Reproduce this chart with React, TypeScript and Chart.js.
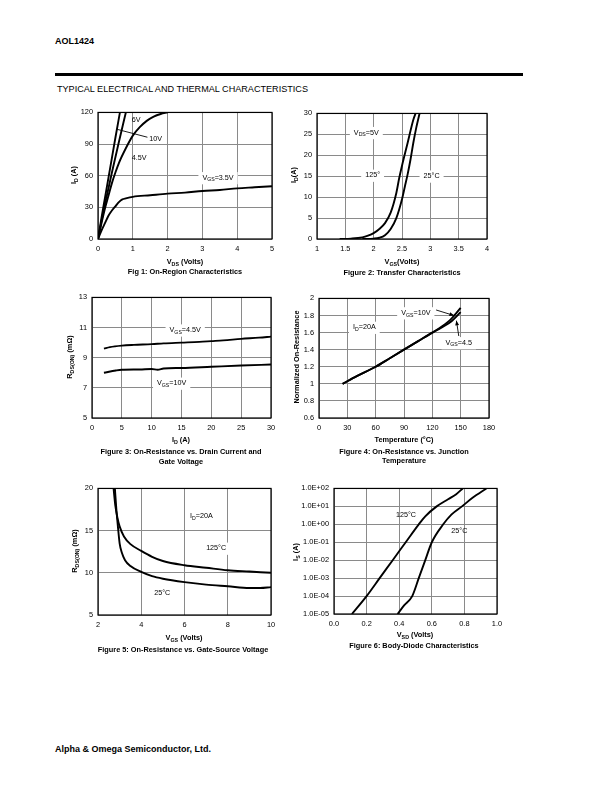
import React, { useEffect, useRef } from 'react';
import { Chart, registerables } from 'chart.js';

Chart.register(...registerables);

const FONT = '"Liberation Sans", Arial, Helvetica, sans-serif';

// ---------- Figure 1: On-Region Characteristics ----------
const fig1Vds10V = [0, 0.1, 0.2, 0.3, 0.4, 0.5, 0.63];
const fig1Id10V = [0, 20, 39, 58, 77, 96, 120];
const fig1Vds6V = [0, 0.1, 0.2, 0.4, 0.6, 0.8];
const fig1Id6V = [0, 17, 33, 63, 92, 120];
const fig1Vds45V = [0, 0.1, 0.2, 0.3, 0.4, 0.5, 0.6, 0.8, 1.0, 1.2, 1.4, 1.6, 1.8, 2.0];
const fig1Id45V = [0, 15, 29, 41, 53, 63, 72, 86, 98, 106, 112, 116, 118.5, 120];
const fig1Vds35V = [0, 0.1, 0.2, 0.3, 0.4, 0.5, 0.6, 0.7, 0.8, 1.0, 1.5, 2, 2.5, 3, 3.5, 4, 4.5, 5];
const fig1Id35V = [0, 8, 15, 22, 27, 31, 35, 37.5, 38.5, 40, 41.5, 43, 44, 45.5, 46.5, 48, 49, 50];

// ---------- Figure 2: Transfer Characteristics ----------
const fig2Vgs125 = [1.4, 1.6, 1.8, 1.9, 2.0, 2.1, 2.2, 2.3, 2.4, 2.45, 2.5, 2.6, 2.7, 2.74];
const fig2Id125 = [0, 0.1, 0.4, 0.8, 1.4, 2.4, 3.8, 6.3, 11, 14.5, 17.5, 23, 28.5, 30];
const fig2Vgs25 = [1.8, 2.0, 2.1, 2.2, 2.3, 2.4, 2.5, 2.55, 2.6, 2.65, 2.7, 2.75, 2.81];
const fig2Id25 = [0, 0.1, 0.3, 0.9, 2.4, 5, 9.5, 12.5, 15.5, 19, 23, 26.5, 30];

// ---------- Figure 3: On-Resistance vs Drain Current ----------
const fig3Id45 = [2, 3, 5, 7, 10, 12, 15, 18, 20, 22, 25, 28, 30];
const fig3R45 = [9.6, 9.7, 9.8, 9.85, 9.9, 9.95, 10.0, 10.05, 10.1, 10.15, 10.25, 10.33, 10.4];
const fig3Id10 = [2, 4, 5, 8, 10, 11, 12, 15, 20, 25, 30];
const fig3R10 = [8.0, 8.15, 8.2, 8.22, 8.25, 8.2, 8.28, 8.32, 8.4, 8.48, 8.55];

// ---------- Figure 4: On-Resistance vs Junction Temperature ----------
const fig4T = [25, 40, 60, 75, 90, 105, 120, 130, 140, 150];
const fig4N10 = [1.0, 1.09, 1.2, 1.3, 1.4, 1.5, 1.6, 1.67, 1.76, 1.89];
const fig4N45 = [1.0, 1.09, 1.2, 1.3, 1.4, 1.5, 1.6, 1.66, 1.73, 1.84];

// ---------- Figure 5: On-Resistance vs Gate-Source Voltage ----------
const fig5Vgs125 = [2.72, 2.8, 2.9, 3.0, 3.2, 3.5, 4, 4.5, 5, 6, 7, 8, 9, 10];
const fig5R125 = [20, 18, 16.5, 15.5, 14.3, 13.4, 12.6, 11.9, 11.4, 10.9, 10.6, 10.3, 10.15, 10.0];
const fig5Vgs25 = [2.78, 2.85, 2.92, 3.0, 3.1, 3.25, 3.5, 4, 4.5, 5, 6, 7, 8, 9, 9.5, 10];
const fig5R25 = [20, 17.5, 15.5, 13.5, 12.4, 11.5, 10.8, 10.1, 9.6, 9.3, 8.9, 8.6, 8.4, 8.2, 8.2, 8.3];

// ---------- Figure 6: Body-Diode Characteristics ----------
const fig6Vsd125 = [0.11, 0.2, 0.28, 0.36, 0.44, 0.52, 0.56, 0.63, 0.7, 0.75, 0.79];
const fig6Is125 = [1e-5, 1e-4, 1e-3, 1e-2, 1e-1, 1, 2.8, 10, 25, 48, 100];
const fig6Vsd25 = [0.39, 0.43, 0.48, 0.52, 0.56, 0.6, 0.67, 0.72, 0.785, 0.85, 0.935];
const fig6Is25 = [1e-5, 3e-5, 1e-4, 1e-3, 1e-2, 1e-1, 1, 3.5, 10, 30, 100];
const fig6LogTicks = [1e-5, 1e-4, 1e-3, 1e-2, 1e-1, 1, 10, 100];

// ---------- layout constants ----------
const YW = 44;
const XH = 22;
const PT = 8;
const PR = 14;
const TICK_SIZE = 7.4;
const TEXT_SIZE = 7.35;

const zip = (xs: number[], ys: number[]) => xs.map((x, i) => ({ x, y: ys[i] }));

type Part = { t: string; sub: boolean };
function parseRich(text: string): Part[] {
  const parts: Part[] = [];
  const re = /_\{([^}]*)\}/g;
  let last = 0;
  let m: RegExpExecArray | null;
  while ((m = re.exec(text))) {
    if (m.index > last) parts.push({ t: text.slice(last, m.index), sub: false });
    parts.push({ t: m[1], sub: true });
    last = m.index + m[0].length;
  }
  if (last < text.length) parts.push({ t: text.slice(last), sub: false });
  return parts;
}

type Note = { x: number; y: number; text: string; bg?: boolean };
type Arrow = { x1: number; y1: number; x2: number; y2: number; head?: boolean };

function drawRich(ctx: CanvasRenderingContext2D, text: string, x: number, y: number, size: number, bg: boolean) {
  const parts = parseRich(text);
  const nf = `${size}px ${FONT}`;
  const sf = `${size * 0.72}px ${FONT}`;
  let w = 0;
  const widths = parts.map((p) => {
    ctx.font = p.sub ? sf : nf;
    const mw = ctx.measureText(p.t).width;
    w += mw;
    return mw;
  });
  if (bg) {
    ctx.fillStyle = '#fff';
    ctx.fillRect(x - 4, y - size * 0.8, w + 8, size * 1.7);
  }
  ctx.fillStyle = '#000';
  ctx.textBaseline = 'middle';
  ctx.textAlign = 'left';
  let cx = x;
  parts.forEach((p, i) => {
    ctx.font = p.sub ? sf : nf;
    ctx.fillText(p.t, cx, p.sub ? y + size * 0.3 : y);
    cx += widths[i];
  });
}

function makeAnnotPlugin(notes: Note[], arrows: Arrow[]) {
  return {
    id: 'annot',
    beforeDatasetsDraw(chart: any) {
      const { ctx, chartArea: a, scales } = chart;
      ctx.save();
      ctx.beginPath();
      ctx.rect(a.left, a.top, a.right - a.left, a.bottom - a.top);
      ctx.clip();
      notes.forEach((n) => {
        drawRich(ctx, n.text, scales.x.getPixelForValue(n.x), scales.y.getPixelForValue(n.y), 7.2, !!n.bg);
      });
      ctx.restore();
      // frame around the plot area
      ctx.save();
      ctx.strokeStyle = '#000';
      ctx.lineWidth = 1.2;
      ctx.strokeRect(a.left, a.top, a.right - a.left, a.bottom - a.top);
      ctx.restore();
    },
    afterDatasetsDraw(chart: any) {
      const { ctx, scales } = chart;
      ctx.save();
      ctx.strokeStyle = '#000';
      ctx.fillStyle = '#000';
      ctx.lineWidth = 0.9;
      arrows.forEach((ar) => {
        const x1 = scales.x.getPixelForValue(ar.x1);
        const y1 = scales.y.getPixelForValue(ar.y1);
        const x2 = scales.x.getPixelForValue(ar.x2);
        const y2 = scales.y.getPixelForValue(ar.y2);
        ctx.beginPath();
        ctx.moveTo(x1, y1);
        ctx.lineTo(x2, y2);
        ctx.stroke();
        if (ar.head) {
          const ang = Math.atan2(y2 - y1, x2 - x1);
          const L = 5;
          ctx.beginPath();
          ctx.moveTo(x2, y2);
          ctx.lineTo(x2 - L * Math.cos(ang - 0.4), y2 - L * Math.sin(ang - 0.4));
          ctx.lineTo(x2 - L * Math.cos(ang + 0.4), y2 - L * Math.sin(ang + 0.4));
          ctx.closePath();
          ctx.fill();
        }
      });
      ctx.restore();
    },
  };
}

const num = (v: any) => String(Math.round(Number(v) * 100) / 100);
const sci = (v: any) => {
  const e = Math.round(Math.log10(Number(v)));
  return `1.0E${e >= 0 ? '+' : '-'}${String(Math.abs(e)).padStart(2, '0')}`;
};

function axis(min: number, max: number, step: number | null, cb: (v: any) => string, isX: boolean, log = false) {
  const o: any = {
    type: log ? 'logarithmic' : 'linear',
    min,
    max,
    ticks: {
      color: '#000',
      font: { family: FONT, size: TICK_SIZE },
      padding: isX ? 6 : 5,
      maxRotation: 0,
      autoSkip: false,
      callback: cb,
    },
    grid: { color: '#8a8a8a', lineWidth: 1, drawTicks: false },
    border: { display: false },
    afterFit: (s: any) => {
      if (isX) s.height = XH;
      else s.width = YW;
    },
  };
  if (step != null) o.ticks.stepSize = step;
  if (log) {
    o.afterBuildTicks = (s: any) => {
      s.ticks = fig6LogTicks.map((v) => ({ value: v }));
    };
  }
  return o;
}

function lineDs(data: { x: number; y: number }[]) {
  return {
    data,
    borderColor: '#000',
    borderWidth: 1.9,
    pointRadius: 0,
    fill: false,
    cubicInterpolationMode: 'monotone',
  };
}

function makeConfig(datasets: any[], x: any, y: any, notes: Note[], arrows: Arrow[]) {
  return {
    type: 'line',
    data: { datasets },
    options: {
      animation: false,
      responsive: false,
      maintainAspectRatio: false,
      layout: { padding: { top: PT, right: PR, left: 0, bottom: 0 } },
      plugins: { legend: { display: false }, tooltip: { enabled: false } },
      scales: { x, y },
    },
    plugins: [makeAnnotPlugin(notes, arrows)],
  };
}

type Box = { l: number; t: number; r: number; b: number };

function ChartBox({ box, config }: { box: Box; config: () => any }) {
  const ref = useRef<HTMLCanvasElement>(null);
  useEffect(() => {
    const chart = new Chart(ref.current as HTMLCanvasElement, config() as any);
    return () => chart.destroy();
  }, []);
  const w = box.r - box.l + YW + PR;
  const h = box.b - box.t + PT + XH;
  return (
    <canvas
      ref={ref}
      width={w}
      height={h}
      style={{ position: 'absolute', left: box.l - YW, top: box.t - PT, width: w, height: h }}
    />
  );
}

function Rich({ text }: { text: string }) {
  return (
    <>
      {parseRich(text).map((p, i) =>
        p.sub ? (
          <span key={i} style={{ fontSize: '0.72em', position: 'relative', top: '0.3em' }}>
            {p.t}
          </span>
        ) : (
          <span key={i}>{p.t}</span>
        )
      )}
    </>
  );
}

function Label({ x, y, text, size = TEXT_SIZE, bold = true, rotate = false }: { x: number; y: number; text: string; size?: number; bold?: boolean; rotate?: boolean }) {
  return (
    <div
      style={{
        position: 'absolute',
        left: x,
        top: y,
        transform: `translate(-50%, -50%)${rotate ? ' rotate(-90deg)' : ''}`,
        fontFamily: FONT,
        fontSize: size,
        fontWeight: bold ? 'bold' : 'normal',
        whiteSpace: 'nowrap',
        lineHeight: 1,
        color: '#000',
      }}
    >
      <Rich text={text} />
    </div>
  );
}

const box1: Box = { l: 98, t: 111, r: 272, b: 239 };
const box2: Box = { l: 317, t: 112, r: 487, b: 239 };
const box3: Box = { l: 92, t: 296, r: 271, b: 418 };
const box4: Box = { l: 319, t: 297, r: 489, b: 418 };
const box5: Box = { l: 98, t: 487, r: 271, b: 615 };
const box6: Box = { l: 334, t: 487, r: 497, b: 614 };

const cfg1 = () =>
  makeConfig(
    [
      lineDs(zip(fig1Vds10V, fig1Id10V)),
      lineDs(zip(fig1Vds6V, fig1Id6V)),
      lineDs(zip(fig1Vds45V, fig1Id45V)),
      lineDs(zip(fig1Vds35V, fig1Id35V)),
    ],
    axis(0, 5, 1, num, true),
    axis(0, 120, 30, num, false),
    [
      { x: 0.97, y: 113, text: '6V' },
      { x: 1.47, y: 94.5, text: '10V' },
      { x: 0.97, y: 76.5, text: '4.5V' },
      { x: 3.0, y: 58, text: 'V_{GS}=3.5V', bg: true },
    ],
    [{ x1: 0.55, y1: 104, x2: 1.42, y2: 96.5 }]
  );

const cfg2 = () =>
  makeConfig(
    [lineDs(zip(fig2Vgs125, fig2Id125)), lineDs(zip(fig2Vgs25, fig2Id25))],
    axis(1, 4, 0.5, num, true),
    axis(0, 30, 5, num, false),
    [
      { x: 1.65, y: 25.4, text: 'V_{DS}=5V', bg: true },
      { x: 1.85, y: 15.2, text: '125°', bg: true },
      { x: 2.88, y: 15, text: '25°C', bg: true },
    ],
    []
  );

const cfg3 = () =>
  makeConfig(
    [lineDs(zip(fig3Id45, fig3R45)), lineDs(zip(fig3Id10, fig3R10))],
    axis(0, 30, 5, num, true),
    axis(5, 13, 2, num, false),
    [
      { x: 13.0, y: 10.83, text: 'V_{GS}=4.5V', bg: true },
      { x: 10.9, y: 7.3, text: 'V_{GS}=10V', bg: true },
    ],
    []
  );

const cfg4 = () =>
  makeConfig(
    [lineDs(zip(fig4T, fig4N10)), lineDs(zip(fig4T, fig4N45))],
    axis(0, 180, 30, num, true),
    axis(0.6, 2, 0.2, num, false),
    [
      { x: 36, y: 1.66, text: 'I_{D}=20A', bg: true },
      { x: 87, y: 1.83, text: 'V_{GS}=10V', bg: true },
      { x: 134, y: 1.48, text: 'V_{GS}=4.5', bg: true },
    ],
    [
      { x1: 124, y1: 1.865, x2: 143, y2: 1.8, head: true },
      { x1: 148, y1: 1.56, x2: 145.5, y2: 1.74, head: true },
    ]
  );

const cfg5 = () =>
  makeConfig(
    [lineDs(zip(fig5Vgs125, fig5R125)), lineDs(zip(fig5Vgs25, fig5R25))],
    axis(2, 10, 2, num, true),
    axis(5, 20, 5, num, false),
    [
      { x: 6.26, y: 16.7, text: 'I_{D}=20A' },
      { x: 7.0, y: 12.9, text: '125°C', bg: true },
      { x: 4.6, y: 7.6, text: '25°C' },
    ],
    []
  );

const cfg6 = () =>
  makeConfig(
    [lineDs(zip(fig6Vsd125, fig6Is125)), lineDs(zip(fig6Vsd25, fig6Is25))],
    axis(0, 1, 0.2, (v: any) => Number(v).toFixed(1), true),
    axis(1e-5, 100, null, sci, false, true),
    [
      { x: 0.38, y: 3.2, text: '125°C' },
      { x: 0.72, y: 0.4, text: '25°C' },
    ],
    []
  );

export default function App() {
  return (
    <div style={{ position: 'absolute', left: 0, top: 0, width: 612, height: 792, background: '#fff', overflow: 'hidden' }}>
      <div style={{ position: 'absolute', left: 55, top: 37, fontFamily: FONT, fontSize: 9, fontWeight: 'bold', lineHeight: 1 }}>AOL1424</div>
      <div style={{ position: 'absolute', left: 55, top: 73, width: 468, height: 2.5, background: '#000' }} />
      <div style={{ position: 'absolute', left: 57, top: 84.5, fontFamily: FONT, fontSize: 9.1, lineHeight: 1 }}>
        TYPICAL ELECTRICAL AND THERMAL CHARACTERISTICS
      </div>

      <ChartBox box={box1} config={cfg1} />
      <ChartBox box={box2} config={cfg2} />
      <ChartBox box={box3} config={cfg3} />
      <ChartBox box={box4} config={cfg4} />
      <ChartBox box={box5} config={cfg5} />
      <ChartBox box={box6} config={cfg6} />

      <Label x={74} y={175} text="I_{D} (A)" rotate />
      <Label x={185} y={262} text="V_{DS} (Volts)" />
      <Label x={185} y={272} text="Fig 1: On-Region Characteristics" />

      <Label x={294} y={175} text="I_{D}(A)" rotate />
      <Label x={402} y={262} text="V_{GS}(Volts)" />
      <Label x={402} y={273} text="Figure 2: Transfer Characteristics" />

      <Label x={70} y={357} text="R_{DS(ON)} (mΩ)" rotate />
      <Label x={181} y={440} text="I_{D} (A)" />
      <Label x={181} y={452} text="Figure 3: On-Resistance vs. Drain Current and" />
      <Label x={181} y={462} text="Gate Voltage" />

      <Label x={297} y={357} text="Normalized On-Resistance" rotate />
      <Label x={404} y={440} text="Temperature (°C)" />
      <Label x={404} y={452} text="Figure 4: On-Resistance vs. Junction" />
      <Label x={404} y={461} text="Temperature" />

      <Label x={75} y={551} text="R_{DS(ON)} (mΩ)" rotate />
      <Label x={184} y={638} text="V_{GS} (Volts)" />
      <Label x={183} y={650} text="Figure 5: On-Resistance vs. Gate-Source Voltage" />

      <Label x={296} y={552} text="I_{S} (A)" rotate />
      <Label x={415} y={635} text="V_{SD} (Volts)" />
      <Label x={414} y={646} text="Figure 6: Body-Diode Characteristics" />

      <div style={{ position: 'absolute', left: 55, top: 744.5, fontFamily: FONT, fontSize: 9, fontWeight: 'bold', lineHeight: 1 }}>
        Alpha &amp; Omega Semiconductor, Ltd.
      </div>
    </div>
  );
}
